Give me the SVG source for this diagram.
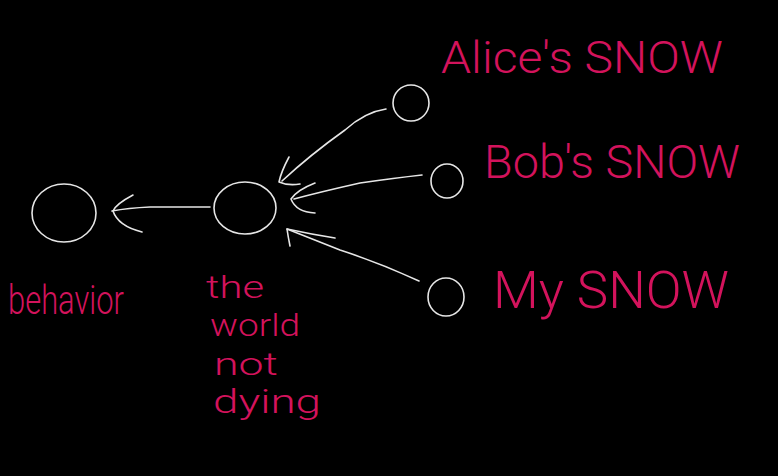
<svg xmlns="http://www.w3.org/2000/svg" width="778" height="476" viewBox="0 0 778 476">
<style>
.bg{fill:#000}
.n{fill:none;stroke:#e6e6e6;stroke-width:1.6;stroke-linecap:round;stroke-linejoin:round}
.c{fill:none;stroke:#e6e6e6;stroke-width:1.6;stroke-linecap:round;stroke-linejoin:round}
.t{fill:#d3135c;font-family:Roboto,"Liberation Sans",sans-serif;font-weight:300}
</style>
<rect class="bg" width="778" height="476"/>
<g id="behavior">
<ellipse class="n" cx="64" cy="213" rx="32" ry="29"/>
<text class="t" x="8" y="314" font-size="40" textLength="116" lengthAdjust="spacingAndGlyphs">behavior</text>
</g>
<g id="world">
<ellipse class="n" cx="245" cy="208" rx="31" ry="26"/>
<text class="t" x="206" y="298" font-size="32" textLength="58" lengthAdjust="spacingAndGlyphs">the</text>
<text class="t" x="210" y="336" font-size="32" textLength="90" lengthAdjust="spacingAndGlyphs">world</text>
<text class="t" x="214" y="375" font-size="32" textLength="64" lengthAdjust="spacingAndGlyphs">not</text>
<text class="t" x="213" y="413" font-size="34" textLength="108" lengthAdjust="spacingAndGlyphs">dying</text>
</g>
<g id="alice">
<ellipse class="n" cx="411" cy="103" rx="18" ry="18"/>
<text class="t" x="441" y="73" font-size="44" textLength="282" lengthAdjust="spacingAndGlyphs">Alice's SNOW</text>
</g>
<g id="bob">
<ellipse class="n" cx="447" cy="181" rx="16" ry="17"/>
<text class="t" x="484" y="178" font-size="46" textLength="256" lengthAdjust="spacingAndGlyphs">Bob's SNOW</text>
</g>
<g id="my">
<ellipse class="n" cx="446" cy="297" rx="18" ry="19"/>
<text class="t" x="493" y="308" font-size="52" textLength="236" lengthAdjust="spacingAndGlyphs">My SNOW</text>
</g>
<g id="connectors">
<path class="c" d="M210 207 L150 207 Q128 208 112 211"/>
<path class="c" d="M133 195 Q116 204 113 211 Q118 226 142 232"/>
<path class="c" d="M386 109 Q365 112 345 130 Q310 155 282 181"/>
<path class="c" d="M289 157 Q281 172 279 182 Q288 186 300 184"/>
<path class="c" d="M422 175 Q395 178 360 183 Q320 192 294 199"/>
<path class="c" d="M315 183 Q297 190 291 199 Q296 212 315 213"/>
<path class="c" d="M419 281 Q380 263 340 250 Q310 238 287 229"/>
<path class="c" d="M290 246 Q288 236 287 229 Q310 234 335 238"/>
</g>
</svg>
